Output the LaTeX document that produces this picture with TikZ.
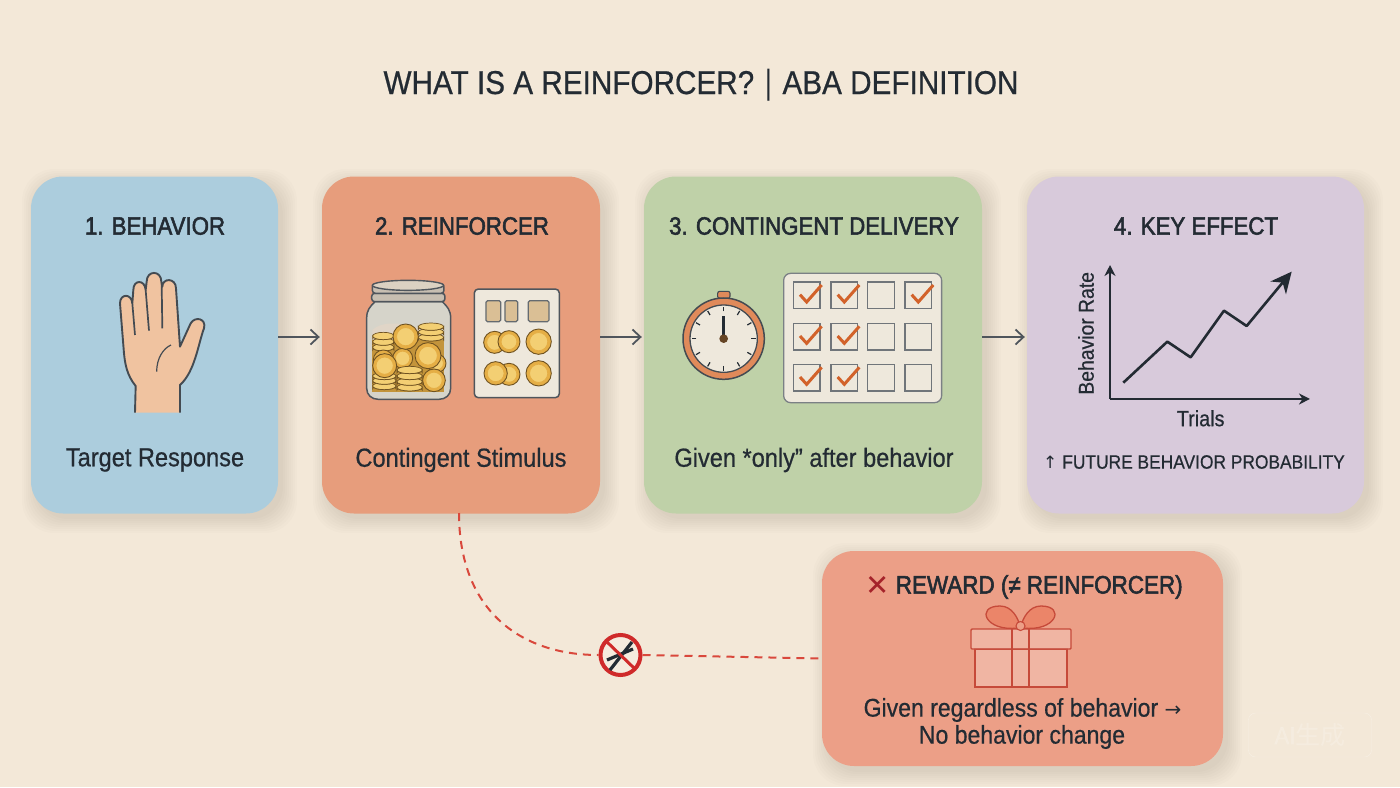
\documentclass[tikz,border=0pt]{standalone}
\usepackage{fontspec}
\setmainfont[FakeStretch=0.9,FakeBold=0.6]{Liberation Sans}
\newfontfamily\headfont[FakeStretch=0.89,FakeBold=2.2]{Liberation Sans}
\newfontfamily\symfont{DejaVu Sans}
\newfontfamily\cjk{Noto Sans CJK SC}
\usetikzlibrary{arrows.meta}
\definecolor{paper}{HTML}{F3E8D8}
\definecolor{ink}{HTML}{232B33}
\definecolor{bluecard}{HTML}{ACCDDD}
\definecolor{orangecard}{HTML}{E79D7C}
\definecolor{greencard}{HTML}{BFD1A8}
\definecolor{purplecard}{HTML}{D8CADB}
\definecolor{rewardcard}{HTML}{EC9F87}
\definecolor{gold}{HTML}{E5AE45}
\definecolor{goldlight}{HTML}{F3CF73}
\definecolor{goldedge}{HTML}{6F5221}
\definecolor{dashred}{HTML}{D9483C}
\definecolor{giftred}{HTML}{C64A3A}
\definecolor{xred}{HTML}{A5232A}
\definecolor{ringred}{HTML}{CF2A2A}
\definecolor{checkorange}{HTML}{D2622A}
\definecolor{boardfill}{HTML}{EEE8DC}
\definecolor{skin}{HTML}{F0C3A0}
\definecolor{watchring}{HTML}{E08A5A}
\definecolor{slot}{HTML}{DABF95}
\definecolor{glass}{HTML}{D6D4CA}
\tikzset{
  card/.style={rounded corners=32pt,minimum height=337pt,inner sep=0pt,
    draw=none,fill=#1},
  shade/.style={fill=black,opacity=0.012,rounded corners=32pt},
  cardtitle/.style={font=\headfont\fontsize{25}{25}\selectfont,text=ink,inner sep=0pt},
  cardtext/.style={font=\fontsize{26.2}{26.2}\selectfont,text=ink,inner sep=0pt},
  flowarrow/.style={draw=ink!80,line width=1.8pt,shorten >=2pt,-{Straight Barb[length=8pt,width=15pt]}},
  dashline/.style={draw=dashred,line width=2pt,dash pattern=on 8pt off 6pt},
  icon/.style={line width=1.6pt,draw=ink!85},
  axis/.style={draw=ink,line width=2.4pt,-{Stealth[length=11pt,width=11pt]}}
}
% one gold coin, seen from the front
\newcommand{\coinface}[3]{
  \fill[gold,draw=goldedge,line width=0.9pt] (#1,#2) circle (#3);
  \fill[goldlight,draw=gold,line width=0.8pt] (#1,#2) circle (0.72*#3);
}
% one flat coin of a pile
\newcommand{\coinflat}[3]{
  \fill[gold,draw=goldedge,line width=0.8pt] (#1-#3,#2) -- ++(0,8) arc (180:360:#3 and 11) -- ++(0,-8) arc (0:180:#3 and 11) -- cycle;
  \fill[goldlight,draw=goldedge,line width=0.7pt] (#1,#2) ellipse (#3 and 11);
}
\begin{document}
\begin{tikzpicture}[x=1pt,y=-1pt]
  \useasboundingbox (0,0) rectangle (1400,787);
  \fill[paper] (0,0) rectangle (1400,787);

  \node[font=\fontsize{33}{33}\selectfont,text=ink,inner sep=0pt,anchor=base] (title) at (701,94) {WHAT IS A REINFORCER?\hspace{6pt}{\symfont\fontsize{27}{27}\selectfont │}\hspace{6pt}ABA DEFINITION};

  % soft shadows
  \foreach \g in {0,2,...,14} {
    \fill[shade] (31+5-\g,177+6-\g) rectangle (278+5+\g,513+6+\g);
    \fill[shade] (322+5-\g,177+6-\g) rectangle (600+5+\g,513+6+\g);
    \fill[shade] (644+5-\g,177+6-\g) rectangle (982+5+\g,513+6+\g);
    \fill[shade] (1027+5-\g,177+6-\g) rectangle (1364+5+\g,513+6+\g);
    \fill[shade] (822+5-\g,551+6-\g) rectangle (1223+5+\g,766+6+\g);
  }

  % the four cards
  \node[card=bluecard,minimum width=247pt] (behavior) at (154.5,345) {};
  \node[card=orangecard,minimum width=278pt] (reinforcer) at (461,345) {};
  \node[card=greencard,minimum width=338pt] (delivery) at (813,345) {};
  \node[card=purplecard,minimum width=337pt] (effect) at (1195.5,345) {};
  \node[card=rewardcard,minimum width=401pt,minimum height=215pt] (reward) at (1022.5,658.5) {};

  \node[cardtitle] (behaviortitle) at (155,226) {1. BEHAVIOR};
  \node[cardtitle] (reinforcertitle) at (462,226) {2. REINFORCER};
  \node[cardtitle] (deliverytitle) at (814,226) {3. CONTINGENT DELIVERY};
  \node[cardtitle] (effecttitle) at (1196,226) {4. KEY EFFECT};

  \node[cardtext] (behaviortext) at (155,460) {Target Response};
  \node[cardtext] (reinforcertext) at (461,460) {Contingent Stimulus};
  \node[cardtext] (deliverytext) at (814,460) {Given *only” after behavior};
  \node[font=\fontsize{19.3}{19.3}\selectfont,text=ink,inner sep=0pt] (effecttext) at (1194,462) {{\symfont\fontsize{17}{17}\selectfont ↑} FUTURE BEHAVIOR PROBABILITY};

  \draw[flowarrow] ([yshift=8pt]behavior.east) -- ([yshift=8pt]reinforcer.west);
  \draw[flowarrow] ([yshift=8pt]reinforcer.east) -- ([yshift=8pt]delivery.west);
  \draw[flowarrow] ([yshift=8pt]delivery.east) -- ([yshift=8pt]effect.west);

  % hand
  \begin{scope}[shift={(100,260)},scale=0.3333]
    \filldraw[fill=skin,draw=ink!85,line width=1.9pt,line join=round]
      (105,458) -- (107,378) .. controls (80,345) and (75,310) .. (72,280)
      -- (60,130) .. controls (60,100) and (95,100) .. (97,130)
      -- (100,90) .. controls (100,58) and (135,58) .. (137,90)
      -- (140,65) .. controls (140,30) and (184,30) .. (184,65)
      -- (187,80) .. controls (187,53) and (228,53) .. (228,85)
      -- (240,260) -- (272,190) .. controls (285,168) and (320,175) .. (312,205)
      .. controls (295,250) and (285,335) .. (240,375) -- (240,458);
    \draw[icon,line width=1.7pt] (97,130) -- (105,225)
      (137,90) -- (147,212)
      (185,70) -- (187,205);
    \draw[icon,line width=1.2pt] (213,255) .. controls (190,265) and (170,295) .. (170,335);
  \end{scope}

  % jar with coins
  \begin{scope}[shift={(340,260)},scale=0.3333]
    \filldraw[fill=glass,draw=ink!80,line width=1.5pt]
      (105,125) .. controls (90,140) and (80,150) .. (80,175) -- (80,385)
      .. controls (80,405) and (95,418) .. (115,418) -- (297,418)
      .. controls (317,418) and (332,405) .. (332,385) -- (332,175)
      .. controls (332,150) and (322,140) .. (307,125) -- cycle;
    \fill[black!8!paper] (97,210) .. controls (125,185) and (170,185) .. (240,205) -- (240,300) -- (97,300) -- cycle;
    \fill[gold!85!black] (97,240) rectangle (312,395);
    \foreach \y in {262,245,228} {\coinflat{130}{\y}{32}}
    \foreach \y in {232,216,200} {\coinflat{273}{\y}{38}}
    \coinface{130}{300}{30}
    \coinface{188}{295}{30}
    \coinface{290}{310}{28}
    \foreach \y in {378,362,348} {\coinflat{133}{\y}{35}}
    \coinface{197}{230}{38}
    \coinface{264}{287}{39}
    \coinface{134}{317}{36}
    \foreach \y in {382,365,348,330} {\coinflat{209}{\y}{38}}
    \coinface{282}{361}{34}
    \filldraw[fill=black!18!paper,draw=ink!80,line width=1.5pt,rounded corners=3pt] (95,100) rectangle (315,125);
    \filldraw[fill=black!18!paper,draw=ink!80,line width=1.5pt,rounded corners=3pt] (97,72) rectangle (312,100);
    \filldraw[fill=black!10!paper,draw=ink!80,line width=1.4pt] (204,76) ellipse (107 and 15);
  \end{scope}

  % tray with coins
  \begin{scope}[shift={(340,260)},scale=0.3333]
    \filldraw[fill=boardfill,draw=ink!80,line width=1.5pt,rounded corners=4pt] (403,87) rectangle (658,413);
    \filldraw[fill=slot,draw=ink!70,line width=1.2pt,rounded corners=1.5pt] (438,122) rectangle (482,185);
    \filldraw[fill=slot,draw=ink!70,line width=1.2pt,rounded corners=1.5pt] (495,122) rectangle (533,185);
    \filldraw[fill=slot,draw=ink!70,line width=1.2pt,rounded corners=1.5pt] (565,122) rectangle (627,185);
    \coinface{464}{247}{33}
    \coinface{507}{245}{33}
    \coinface{596}{245}{38}
    \coinface{507}{343}{33}
    \coinface{467}{340}{35}
    \coinface{596}{340}{38}
  \end{scope}

  % stopwatch
  \begin{scope}[shift={(670,260)},scale=0.3333]
    \filldraw[fill=watchring,draw=ink!85,line width=1.1pt,rounded corners=2pt] (143,94) rectangle (180,115);
    \filldraw[fill=watchring,draw=ink!85,line width=1.5pt] (161,236) circle (122);
    \filldraw[fill=boardfill,draw=ink!85,line width=1.3pt] (161,236) circle (101);
    \foreach \a in {0,30,...,330}
      \draw[ink,line width=1.2pt] (161,236) ++(\a:82) -- ++(\a:14);
    \draw[ink,line width=2.4pt] (161,236) -- (161,168);
    \fill[ink!70!orange] (161,236) circle (13);
  \end{scope}

  % checklist board
  \begin{scope}[shift={(670,260)},scale=0.3333]
    \filldraw[fill=boardfill,draw=ink!60,line width=1.3pt,rounded corners=7pt] (341,40) rectangle (815,428);
    \foreach \x in {370,483,593,705}
      \foreach \y in {66,190,313}
        \draw[draw=ink!65,line width=1.4pt] (\x,\y) rectangle ++(80,80);
    \foreach \x/\y in {370/66,483/66,705/66,370/190,483/190,370/313,483/313}
      \draw[draw=checkorange,line width=3pt] (\x+20,\y+38) -- (\x+40,\y+60) -- (\x+85,\y+9);
  \end{scope}

  % chart
  \begin{scope}[shift={(1050,250)},scale=0.3333]
    \coordinate (origin) at (180,447);
    \coordinate (yend) at (180,45);
    \coordinate (xend) at (780,447);
    \draw[axis] (origin) -- (yend);
    \draw[axis] (origin) -- (xend);
    \draw[draw=ink,line width=2.6pt,line join=round,-{Stealth[length=21pt,width=20pt]}]
      (220,398) -- (352,275) -- (422,322) -- (522,182) -- (590,228) -- (725,65);
    \node[font=\fontsize{22}{22}\selectfont,text=ink,inner sep=0pt] (trials) at (452,505) {Trials};
    \node[font=\fontsize{21.5}{21.5}\selectfont,text=ink,inner sep=0pt,rotate=90] (rate) at (108,250) {Behavior Rate};
  \end{scope}

  % dashed link through the no sign
  \coordinate (linkstart) at (459,513);
  \node[circle,draw=ringred,line width=4pt,fill=paper!85!white,minimum size=40pt,inner sep=0pt] (nosign) at (620.5,655) {};
  \draw[dashline] (linkstart) .. controls (459,610) and (520,655) .. (nosign.west);
  \draw[dashline] (nosign.east) -- (reward.west);
  \draw[ink,line width=3.2pt] (610,670) -- (632,642);
  \draw[ink,line width=3.2pt] (607,660) -- (633,649);
  \draw[ringred,line width=3pt] (606,641) -- (635,669);

  % reward card
  \node[cardtitle,font=\headfont\fontsize{25.2}{25.2}\selectfont] (rewardtitle) at (1024,587) {\raisebox{-1.5pt}{\color{xred}\symfont\fontsize{29}{25}\selectfont ✕} REWARD (≠ REINFORCER)};
  \filldraw[fill=rewardcard!60!white,fill opacity=0.6,draw=giftred,line width=1.4pt] (975,649) rectangle (1067,687);
  \filldraw[fill=rewardcard!60!white,fill opacity=0.6,draw=giftred,line width=1.4pt,rounded corners=1pt] (971,629) rectangle (1071,649);
  \draw[draw=giftred,line width=1.4pt] (1012,629) -- (1012,687) (1029,629) -- (1029,687);
  \filldraw[fill=orangecard!85!red,draw=giftred,line width=1.3pt] (1018,628) .. controls (985,632) and (975,606) .. (1000,606) .. controls (1012,606) and (1018,618) .. (1020,626);
  \filldraw[fill=orangecard!85!red,draw=giftred,line width=1.3pt] (1023,628) .. controls (1056,632) and (1066,606) .. (1041,606) .. controls (1029,606) and (1023,618) .. (1021,626);
  \filldraw[fill=rewardcard,draw=giftred,line width=1.1pt] (1020.5,626) circle (4.5);
  \node[cardtext,font=\fontsize{25.6}{25.6}\selectfont] (rewardtext) at (1022.5,710) {Given regardless of behavior {\symfont\fontsize{20}{20}\selectfont →}};
  \node[cardtext,font=\fontsize{25.6}{25.6}\selectfont] (rewardnote) at (1022,737) {No behavior change};

  % faint mark in the corner
  \node[draw=white,draw opacity=0.35,rounded corners=7pt,minimum width=123pt,minimum height=44pt,inner sep=0pt,text=white,text opacity=0.2,font=\fontsize{25}{25}\selectfont] (mark) at (1310,735) {AI{\cjk 生成}};
\end{tikzpicture}
\end{document}
